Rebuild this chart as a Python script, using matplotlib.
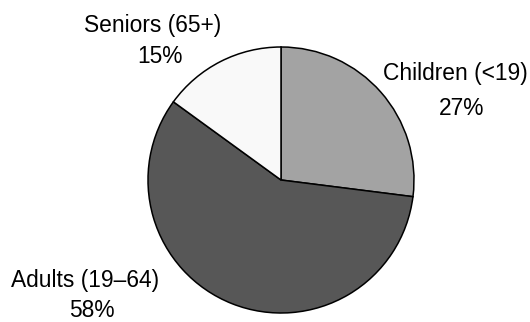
import matplotlib
matplotlib.use("Agg")
import matplotlib.pyplot as plt

labels = ["Children (<19)", "Adults (19\u201364)", "Seniors (65+)"]
pcts = ["27%", "58%", "15%"]
shares = [27, 58, 15]
colors = ["#a3a3a3", "#575757", "#f9f9f9"]

plt.rcParams['font.family'] = ['Liberation Sans', 'DejaVu Sans']

W, H = 530, 322
fig = plt.figure(figsize=(W / 100, H / 100), dpi=100)
ax = fig.add_axes([0, 0, 1, 1])

# pie centre / radius in pixel units (y from bottom)
ax.pie(shares, colors=colors, startangle=90, counterclock=False,
       center=(281, H - 180), radius=133,
       wedgeprops=dict(edgecolor='black', linewidth=1.1))
ax.set_xlim(0, W)
ax.set_ylim(0, H)
ax.set_aspect('equal')
ax.axis('off')

# label positions: (x centre, baseline line 1, baseline line 2), pixels from top
label_pos = [(455, 80, 115), (85, 287, 317), (153, 32, 63)]
for (x, y1, y2), lab, p in zip(label_pos, labels, pcts):
    ax.text(x, H - y1, lab, ha='center', va='baseline', fontsize=16.4)
    ax.text(x + 7, H - y2, p, ha='center', va='baseline', fontsize=16.4)

fig.savefig("out.png", dpi=100)
